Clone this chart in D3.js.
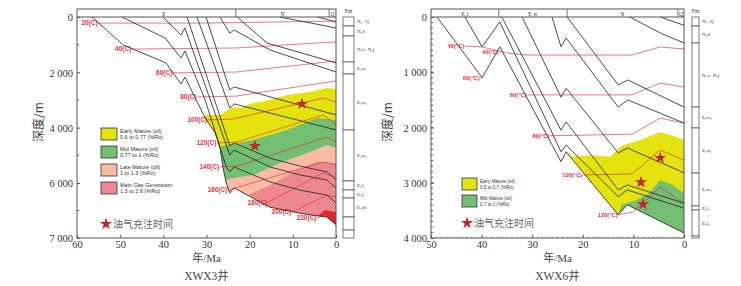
<!DOCTYPE html>
<html><head><meta charset="utf-8">
<script src="https://cdn.jsdelivr.net/npm/d3@7"></script>
<style>
body{margin:0;background:#fff;}
text{font-family:"Liberation Serif","DejaVu Serif",serif;fill:#333;}
.cjk{font-family:"Noto Sans CJK SC",sans-serif;}
.sans{font-family:"Liberation Sans",Arial,sans-serif;}
</style></head><body>
<svg id="chart" width="741" height="286"></svg>
<script>
// ---------- XWX3 well ----------
var ageTicksL = [60, 50, 40, 30, 20, 10, 0];
var depthTicksL = [0, 2000, 4000, 6000, 7000];
var minorDepthL = [1000, 3000, 5000, 6500];
var stratL = [[56.5, 23.2, "E"], [23.2, 1.6, "N"], [1.6, 0, "Q"]];
var fmL = [[0, 325, "N₂+Q"], [325, 687, "N₁d"], [687, 1626, "N₁x+N₁j"], [1626, 2060, "E₃w₁"],
  [2060, 4084, "E₃w₂"], [4084, 5927, "E₃w₃"], [5927, 6127, "E₂l₁"], [6127, 6273, "E₂l₂"],
  [6273, 6618, "E₁ch"], [6618, 6855, ""], [6855, 7000, ""]];
var burialL = [
  [[56.5,0],[49.3,1010],[39.4,1660],[35.9,2420],[35.0,2170],[30.3,3650],[28.0,4190],[26.9,4700],[26.2,5420],[25.5,5960],[24.6,6180],[23.6,6090],[15.3,6440],[8.3,6550],[2.1,6620],[0,6760]],
  [[49.6,0],[39.6,760],[35.9,1480],[35.0,1230],[30.3,3000],[25.5,5390],[24.6,5600],[23.6,5420],[15.3,5960],[8.3,6130],[2.1,6220],[0,6360]],
  [[40.1,0],[35.9,650],[35.0,400],[24.6,4990],[23.6,4810],[15.3,5420],[8.3,5710],[2.1,5890],[0,6090]],
  [[34.5,0],[24.6,4660],[23.6,4550],[15.3,5100],[8.3,5390],[2.1,5600],[0,5890]],
  [[32.2,0],[24.6,3290],[23.6,3140],[0,4080]],
  [[30.1,0],[24.6,2640],[23.6,2530],[0,3540]],
  [[26.9,0],[24.6,580],[23.6,470],[15.3,1190],[0,1990]],
  [[22.9,0],[16.0,940],[0,1660]],
  [[13.0,0],[2.1,330],[0,400]],
  [[4.2,0],[0,180]]
];
var isoL = [
  ["20(C)", [[55.1,220],[31.5,220],[0,150]]],
  ["40(C)", [[47.3,1160],[23.2,1120],[0,900]]],
  ["60(C)", [[37.8,2020],[23.2,1990],[0,1590]]],
  ["80(C)", [[32.2,2890],[23.2,2860],[0,2310]]],
  ["100(C)", [[29.7,3720],[23.9,3690],[3.0,2930],[0,3070]]],
  ["120(C)", [[27.6,4550],[22.9,4520],[3.0,3540],[0,3870]]],
  ["140(C)", [[26.9,5420],[22.9,5390],[2.1,4340],[0,4520]]],
  ["160(C)", [[25.0,6130],[3.0,5240],[0,5350]]],
  ["180(C)", [[15.8,6350],[3.0,5640],[0,5780]]],
  ["200(C)", [[10.2,6530],[2.1,6220],[0,6260]]],
  ["220(C)", [[4.4,6640],[2.1,6550],[0,6580]]]
];
var yellowTopL = [[30.3,3540],[26.9,3540],[23.9,3250],[22.2,3290],[19.2,3110],[15.3,3000],[11.4,2820],[6.0,2710],[2.1,2570],[0,2600]];
var greenTopL = [[26.9,4700],[25.3,4630],[19.2,4450],[11.4,4080],[4.4,3650],[0,3720]];
var lateTopL = [[25.7,5890],[23.9,5820],[19.2,5710],[13.0,5280],[6.7,4920],[2.1,4630],[0,4730]];
var gasTopL = [[20.4,6220],[15.3,6040],[9.0,5530],[4.4,5240],[0,5280]];
var dryTopL = [[4.2,6600],[2.5,6490],[0,6530]];
var starsL = [[7.9,3140],[18.8,4660]];

// ---------- XWX6 well ----------
var ageTicksR = [50, 40, 30, 20, 10, 0];
var depthTicksR = [0, 1000, 2000, 3000, 4000];
var stratR = [[50, 36.6, "E₂l"], [36.6, 23.1, "E₃w"], [23.1, 1.2, "N"], [1.2, 0, "Q"]];
var fmR = [[0, 163, "N₂+Q"], [163, 470, "N₁d"], [470, 1629, "N₁x+N₁j"], [1629, 2009, "E₃w₁"],
  [2009, 2824, "E₃w₂"], [2824, 3421, "E₃w₃"], [3421, 3493, "E₂l₁"], [3493, 3964, "E₂l₂"], [3964, 4000, ""]];
var burialR = [
  [[48.8,0],[39.9,1100],[36.4,540],[24.3,2620],[23.3,2440],[13.0,3580],[11.2,3400],[0,3910]],
  [[43.3,0],[39.9,540],[36.4,90],[24.3,2440],[23.3,2320],[13.0,3250],[11.2,3130],[0,3460]],
  [[36.0,0],[24.3,2050],[23.3,1900],[13.0,3130],[11.2,3040],[0,3370]],
  [[32.0,0],[24.3,1450],[23.3,1290],[13.0,2460],[11.2,2370],[0,2820]],
  [[26.1,0],[24.3,540],[23.3,380],[13.0,1630],[11.1,1500],[0,1920]],
  [[23.1,0],[13.0,1230],[11.1,1140],[0,1630]],
  [[10.7,0],[4.7,290],[0,470]],
  [[4.7,0],[0,150]]
];
var isoR = [
  ["40(°C)", [[43.3,525],[39.9,543],[35.0,652],[31.0,688],[10.3,688],[4.7,543],[0,579]]],
  ["60(°C)", [[40.3,1104],[39.9,1104]]],
  ["60(°C)", [[31.0,1410],[10.3,1410],[4.7,1195],[0,1270]]],
  ["80(°C)", [[26.5,2150],[10.3,2120],[4.7,1830],[0,1920]]],
  ["100(°C)", [[20.0,2860],[10.3,2840],[4.7,2410],[0,2590]]],
  ["120(°C)", [[13.0,3580],[10.1,3530],[4.7,3080],[0,3370]]]
];
var extraLabelsR = [[36.6, 640, "40(°C)"]];
var yellowTopR = [[23.3,2440],[21.9,2530],[18.6,2500],[14.6,2530],[12.1,2320],[8.7,2230],[4.7,2080],[1.4,2170],[0,2230]];
var greenTopR = [[13.0,3580],[12.3,3400],[9.3,3310],[6.7,3170],[4.7,2950],[2.2,3040],[0,3190]];
var starsR = [[4.7,2550],[8.5,2990],[8.1,3390]];

var legendL = [["#e4e30e", "Early Mature (oil)", "0.6 to 0.77 (%Ro)"],
  ["#72bf72", "Mid Mature (oil)", "0.77 to 1 (%Ro)"],
  ["#f8bca3", "Late Mature (oil)", "1 to 1.3 (%Ro)"],
  ["#ee8890", "Main Gas Generation", "1.3 to 2.6 (%Ro)"]];
var legendR = [["#e4e30e", "Early Mature (oil)", "0.5 to 0.7 (%Ro)"],
  ["#72bf72", "Mid Mature (oil)", "0.7 to 1 (%Ro)"]];

var svg = d3.select("#chart");
var starColor = "#c1272d";
var isoColor = "#e5303b";

function fmtDepth(d) { return d3.format(",")(d).replace(/,/g, " "); }

function drawPanel(p) {
  var x = d3.scaleLinear().domain(p.ageDomain).range(p.xRange);
  var y = d3.scaleLinear().domain(p.depthDomain).range(p.yRange);
  var line = d3.line().x(function (d) { return x(d[0]); }).y(function (d) { return y(d[1]); });
  var base = p.burial[0];
  var g = svg.append("g");
  var x0 = p.xRange[0], x1 = p.xRange[1], y0 = p.yRange[0], y1 = p.yRange[p.yRange.length - 1];

  // maturity zones, bounded below by the oldest horizon
  p.zones.forEach(function (z) {
    var pts = z[0].concat(base.filter(function (d) { return d[0] <= z[0][0][0]; }).reverse());
    g.append("path").attr("d", line(pts) + "Z").attr("fill", z[1]);
  });

  // isotherms
  p.iso.forEach(function (s) {
    g.append("path").attr("d", line(s[1])).attr("fill", "none")
      .attr("stroke", isoColor).attr("stroke-opacity", 0.75).attr("stroke-width", 0.9);
    g.append("text").attr("class", "sans")
      .attr("x", x(s[1][0][0]) - 0.5).attr("y", y(s[1][0][1]) + p.isoFont * 0.35)
      .attr("text-anchor", "end").attr("font-size", p.isoFont).attr("font-weight", "bold")
      .style("fill", isoColor).text(s[0]);
  });
  (p.extraLabels || []).forEach(function (s) {
    g.append("text").attr("class", "sans")
      .attr("x", x(s[0])).attr("y", y(s[1]) + p.isoFont * 0.35)
      .attr("text-anchor", "end").attr("font-size", p.isoFont).attr("font-weight", "bold")
      .style("fill", isoColor).text(s[2]);
  });

  // burial curves
  p.burial.forEach(function (h) {
    g.append("path").attr("d", line(h)).attr("fill", "none")
      .attr("stroke", "#2b2b2b").attr("stroke-width", 0.85);
  });

  // stars
  p.stars.forEach(function (s) {
    g.append("path").attr("d", d3.symbol().type(d3.symbolStar).size(46)())
      .attr("transform", "translate(" + x(s[0]) + "," + y(s[1]) + ")")
      .attr("fill", starColor);
  });

  // frame + stratigraphic strip
  g.append("rect").attr("x", x0).attr("y", 9).attr("width", x1 - x0).attr("height", y1 - 9)
    .attr("fill", "none").attr("stroke", "#555").attr("stroke-width", 1);
  g.append("line").attr("x1", x0).attr("x2", x1).attr("y1", y0).attr("y2", y0)
    .attr("stroke", "#555").attr("stroke-width", 1);
  p.strat.forEach(function (s, i) {
    if (i < p.strat.length - 1) {
      g.append("line").attr("x1", x(s[1])).attr("x2", x(s[1])).attr("y1", 9).attr("y2", y0)
        .attr("stroke", "#555").attr("stroke-width", 0.8);
    }
    g.append("text").attr("x", x((s[0] + s[1]) / 2)).attr("y", 15.5)
      .attr("text-anchor", "middle").attr("font-size", 5.5).style("fill", "#333").text(s[2]);
  });

  // axes
  var ax = g.append("g").attr("transform", "translate(0," + y1 + ")")
    .call(d3.axisBottom(x).tickValues(p.ageTicks).tickSize(-3).tickPadding(3).tickFormat(d3.format("d")));
  var ay = g.append("g").attr("transform", "translate(" + x0 + ",0)")
    .call(d3.axisLeft(y).tickValues(p.depthTicks).tickSize(-3).tickPadding(4).tickFormat(fmtDepth));
  [ax, ay].forEach(function (a) {
    a.attr("font-family", "Liberation Serif").attr("font-size", 10.5);
    a.select(".domain").remove();
    a.selectAll(".tick line").attr("stroke", "#555");
    a.selectAll("text").style("font-family", "'Liberation Serif', serif").style("fill", "#333");
  });
  ay.selectAll("text").attr("dy", "0.35em");
  (p.minorDepth || []).forEach(function (d) {
    g.append("line").attr("x1", x0).attr("x2", x0 + 2).attr("y1", y(d)).attr("y2", y(d)).attr("stroke", "#555");
  });
  (p.minorAge || []).forEach(function (a) {
    g.append("line").attr("x1", x(a)).attr("x2", x(a)).attr("y1", y1).attr("y2", y1 - 1.5).attr("stroke", "#666").attr("stroke-width", 0.6);
  });

  // titles
  g.append("text").attr("class", "cjk").attr("transform", "translate(" + p.yTitleX + ",122) rotate(-90)")
    .attr("text-anchor", "middle").attr("font-size", 12).style("fill", "#444").text("深度/m");
  var cx = (x0 + x1) / 2;
  g.append("text").attr("x", cx).attr("y", 262).attr("text-anchor", "middle").attr("font-size", 11)
    .style("fill", "#444").html('<tspan class="cjk">年</tspan>/Ma');
  g.append("text").attr("x", cx).attr("y", 280).attr("text-anchor", "middle").attr("font-size", 11.5)
    .style("fill", "#444").html('XWX' + p.wellNo + '<tspan class="cjk">井</tspan>');

  // formation column
  var fx = p.fmX, fw = p.fmW;
  g.append("text").attr("x", fx + fw / 2).attr("y", 13).attr("text-anchor", "middle").attr("font-size", 5.5)
    .style("fill", "#333").text("Fm");
  p.fm.forEach(function (f) {
    g.append("rect").attr("x", fx).attr("y", y(f[0])).attr("width", fw).attr("height", y(f[1]) - y(f[0]))
      .attr("fill", "#fff").attr("stroke", "#444").attr("stroke-width", 0.7);
    if (f[2]) {
      g.append("text").attr("x", fx + fw + 3).attr("y", (y(f[0]) + y(f[1])) / 2 + 1.8)
        .attr("font-size", 5).style("fill", "#333").text(f[2]);
    }
  });

  // legend
  p.legend.forEach(function (l, i) {
    var ly = p.legY + i * p.legStep;
    g.append("rect").attr("x", p.legX).attr("y", ly).attr("width", p.legW).attr("height", 12)
      .attr("fill", l[0]).attr("stroke", "#333").attr("stroke-width", 0.8);
    g.append("text").attr("class", "sans").attr("x", p.legX + p.legW + 3).attr("y", ly + 4.5)
      .attr("font-size", p.legFont).text(l[1]);
    g.append("text").attr("class", "sans").attr("x", p.legX + p.legW + 3).attr("y", ly + 10.5)
      .attr("font-size", p.legFont).text(l[2]);
  });
  g.append("path").attr("d", d3.symbol().type(d3.symbolStar).size(46)())
    .attr("transform", "translate(" + (p.legX + 5) + "," + p.starY + ")").attr("fill", starColor);
  g.append("text").attr("class", "cjk").attr("x", p.legX + 12).attr("y", p.starY + 3.5)
    .attr("font-size", 10).style("fill", "#666").text("油气充注时间");
}

drawPanel({
  ageDomain: [60, 0], xRange: [77, 336],
  depthDomain: [0, 6000, 7000], yRange: [17, 183, 238],
  ageTicks: ageTicksL, depthTicks: depthTicksL, minorDepth: minorDepthL,
  strat: stratL, fm: fmL, burial: burialL, iso: isoL, isoFont: 6.5,
  zones: [[yellowTopL, "#e4e30e"], [greenTopL, "#72bf72"], [lateTopL, "#f8bca3"], [gasTopL, "#ee8890"], [dryTopL, "#e3232b"]],
  stars: starsL, legend: legendL, legX: 101, legY: 128, legStep: 18, legW: 16, legFont: 5.5, starY: 224,
  yTitleX: 43, fmX: 343, fmW: 11, wellNo: "3"
});

drawPanel({
  ageDomain: [50, 0], xRange: [431, 684],
  depthDomain: [0, 4000], yRange: [17, 238],
  ageTicks: ageTicksR, depthTicks: depthTicksR,
  minorDepth: d3.range(100, 4000, 100), minorAge: d3.range(1, 50, 1),
  strat: stratR, fm: fmR, burial: burialR, iso: isoR, isoFont: 5.8, extraLabels: extraLabelsR,
  zones: [[yellowTopR, "#e4e30e"], [greenTopR, "#72bf72"]],
  stars: starsR, legend: legendR, legX: 462, legY: 178, legStep: 17, legW: 15, legFont: 4.6, starY: 223,
  yTitleX: 392, fmX: 692, fmW: 7, wellNo: "6"
});
</script>
</body></html>
